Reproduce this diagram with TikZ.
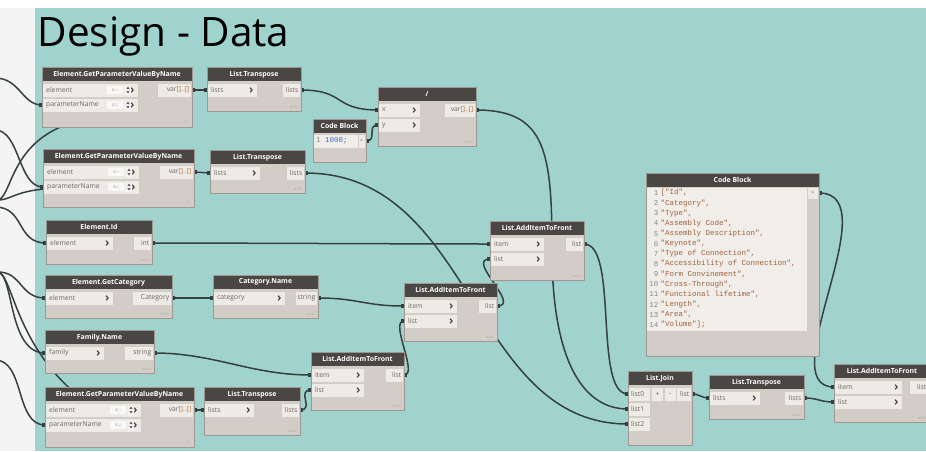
\documentclass[tikz,border=0pt]{standalone}
\usepackage{fontspec}
\setmainfont{Open Sans}
\setmonofont{Liberation Mono}
\usetikzlibrary{calc}
\definecolor{bgc}{HTML}{A0D3CD}
\definecolor{headc}{HTML}{4A4644}
\definecolor{bodyc}{HTML}{D3CDC7}
\definecolor{portc}{HTML}{EEEBE7}
\definecolor{brdc}{HTML}{9E9892}
\definecolor{wirec}{HTML}{354041}
\definecolor{ptxt}{HTML}{6B6662}
\definecolor{leftc}{HTML}{F4F4F4}
\definecolor{orng}{HTML}{C0763A}
\definecolor{codestr}{HTML}{A0603A}
\definecolor{codenum}{HTML}{8B8783}
\definecolor{codeblue}{HTML}{3B6FC4}
\definecolor{autoc}{HTML}{A8A29B}
\definecolor{codebg}{HTML}{F1EEEA}
\pgfdeclarelayer{bgl}\pgfdeclarelayer{wl}\pgfsetlayers{bgl,wl,main}
\tikzset{
  wire/.style={draw=wirec,line width=1.5pt},
  headtxt/.style={text=white,font=\fontsize{6.9}{8}\selectfont\bfseries,inner sep=0pt},
  porttxt/.style={text=ptxt,font=\fontsize{6.8}{7.5}\selectfont,inner sep=0pt},
  autotxt/.style={text=autoc,font=\fontsize{3}{3.5}\selectfont,inner sep=0pt,anchor=south east},
  codetxt/.style={font=\fontsize{7.5}{9}\ttfamily,inner sep=0pt},
}
% Dynamo node: name, x1, y1, x2, y2, title
\newcommand\dyn[6]{%
  \fill[bodyc] (#2,#3) rectangle (#4,#5);
  \fill[headc] (#2,#3) rectangle (#4,#3+14);
  \draw[brdc,line width=0.5pt] (#2,#3) rectangle (#4,#5);
  \node[headtxt] (#1) at ({(#2+#4)/2},#3+7.3) {#6};
}
% input port: name, x1, x2, y, text
\newcommand\inp[5]{%
  \fill[portc] (#2+1,#4-6.5) rectangle (#3,#4+6.5);
  \node[porttxt,anchor=west] (#1t) at (#2+4,#4) {#5};
  \draw[headc,line width=1.1pt] (#3-7,#4-2.3) -- (#3-4.8,#4) -- (#3-7,#4+2.3);
  \coordinate (#1) at (#2,#4);
}
% input port without chevron
\newcommand\inpn[5]{%
  \fill[portc] (#2+1,#4-6.5) rectangle (#3,#4+6.5);
  \node[porttxt,anchor=west] (#1t) at (#2+3,#4) {#5};
  \coordinate (#1) at (#2,#4);
}
% GetParameterValueByName input: name, x1, y, text, default
\newcommand\gpin[5]{%
  \inp{#1}{#2}{#2+96}{#3}{#4}
  \fill[white!85!bodyc] (#2+65,#3-4) rectangle (#2+81,#3+4);
  \node[font=\fontsize{3.5}{4}\selectfont,text=autoc,inner sep=0pt] (#1d) at (#2+73,#3) {#5};
  \fill[white!80!bodyc] (#2+83,#3-4.5) rectangle (#2+89,#3+4.5);
  \fill[ptxt] (#2+84.3,#3-1) -- (#2+86,#3-3.5) -- (#2+87.7,#3-1) -- cycle;
  \fill[ptxt] (#2+84.3,#3+1) -- (#2+86,#3+3.5) -- (#2+87.7,#3+1) -- cycle;
}
% output port: name, x1, x2, y, text
\newcommand\outp[5]{%
  \fill[portc] (#2,#4-6.5) rectangle (#3-1,#4+6.5);
  \node[porttxt,anchor=east] (#1t) at (#3-2.5,#4) {#5};
  \coordinate (#1) at (#3,#4);
}
\newcommand\autolbl[3]{\node[autotxt] (#1a) at (#2-3,#3-2.5) {AUTO};}
\newcommand\lacelbl[3]{\node[autotxt] (#1a) at (#2-3,#3-2.5) {|||};}
\newcommand\vardots{var\textcolor{orng}{[]..[]}}
% wire from output to input with Dynamo-like tangents
\newcommand\wire[4]{%
  \draw[wire] (#1) .. controls +(#3,0) and +(-#4,0) .. (#2);
  \fill[wirec] ($(#1)+(-1,-2.2)$) rectangle ($(#1)+(3,2.2)$);
  \fill[wirec] ($(#2)+(-3,-2.2)$) rectangle ($(#2)+(1,2.2)$);
}
\begin{document}
\begin{tikzpicture}[x=1pt,y=-1pt]
\useasboundingbox (0,0) rectangle (926,451);
\clip (0,0) rectangle (926,451);
\begin{pgfonlayer}{bgl}
  \fill[white] (0,0) rectangle (926,451);
  \fill[leftc] (0,8) rectangle (35,451);
  \fill[bgc] (35,8) rectangle (926,451);
\end{pgfonlayer}
\node[anchor=base west,font=\fontsize{40.5}{44}\selectfont,inner sep=0pt] (title) at (37.5,46) {Design - Data};

% ---------- nodes ----------
\dyn{n1}{42}{67}{192}{127}{Element.GetParameterValueByName}
\gpin{n1a}{42}{90}{element}{DL1}
\gpin{n1b}{42}{105}{parameterName}{DL2}
\outp{n1o}{158}{192}{90}{\vardots}
\lacelbl{n1}{192}{127}

\dyn{lt1}{207}{67}{301}{111}{List.Transpose}
\inp{lt1i}{207}{257}{90}{lists}
\outp{lt1o}{283}{301}{90}{lists}
\autolbl{lt1}{301}{111}

\dyn{n2}{43}{149}{194}{207}{Element.GetParameterValueByName}
\gpin{n2a}{43}{172}{element}{DL1}
\gpin{n2b}{43}{187}{parameterName}{DL2}
\outp{n2o}{160}{194}{172}{\vardots}
\lacelbl{n2}{194}{207}

\dyn{lt2}{210}{150}{305}{193}{List.Transpose}
\inp{lt2i}{210}{260}{173}{lists}
\outp{lt2o}{287}{305}{173}{lists}
\autolbl{lt2}{305}{193}

\dyn{cbs}{313}{119}{366}{162}{Code Block}
\fill[codebg] (314,134.5) rectangle (358,147.5);
\fill[portc] (358.5,134.5) rectangle (365,147.5);
\node[codetxt,anchor=west] (cbst) at (316,141) {\textcolor{codenum}{1} \textcolor{codeblue}{1000;}};
\node[porttxt,font=\fontsize{5.5}{6}\selectfont] (cbsg) at (361.8,141) {>};
\coordinate (cbso) at (366,141);

\dyn{dv}{378}{87}{476}{146}{/}
\inp{dvx}{378}{420}{110}{x}
\inp{dvy}{378}{420}{125}{y}
\outp{dvo}{445}{476}{110}{\vardots}
\autolbl{dv}{476}{146}

\dyn{eid}{46}{220}{152}{264}{Element.Id}
\inp{eidi}{46}{113}{243}{element}
\outp{eido}{134}{152}{243}{int}
\autolbl{eid}{152}{264}

\dyn{gc}{45}{275}{172}{318}{Element.GetCategory}
\inp{gci}{45}{113}{298}{element}
\outp{gco}{133}{172}{298}{Category}
\autolbl{gc}{172}{318}

\dyn{cn}{213}{275}{318}{318}{Category.Name}
\inp{cni}{213}{285}{298}{category}
\outp{cno}{296}{318}{298}{string}
\autolbl{cn}{318}{318}

\dyn{fn}{45}{330}{154}{373}{Family.Name}
\inp{fni}{45}{104}{353}{family}
\outp{fno}{125}{154}{353}{string}
\autolbl{fn}{154}{373}

\dyn{n3}{45}{387}{194}{447}{Element.GetParameterValueByName}
\gpin{n3a}{45}{410}{element}{DL1}
\gpin{n3b}{45}{425}{parameterName}{DL2}
\outp{n3o}{160}{194}{410}{\vardots}
\lacelbl{n3}{194}{447}

\dyn{lt3}{204}{387}{300}{435}{List.Transpose}
\inp{lt3i}{204}{254}{410}{lists}
\outp{lt3o}{282}{300}{410}{lists}
\autolbl{lt3}{300}{435}

\dyn{a1}{311}{352}{404}{410}{List.AddItemToFront}
\inp{a1i}{311}{364}{375}{item}
\inp{a1l}{311}{364}{390}{list}
\outp{a1o}{386}{404}{375}{list}
\autolbl{a1}{404}{410}

\dyn{a2}{404}{283}{497}{341}{List.AddItemToFront}
\inp{a2i}{404}{457}{306}{item}
\inp{a2l}{404}{457}{321}{list}
\outp{a2o}{479}{497}{306}{list}
\autolbl{a2}{497}{341}

\dyn{a3}{490}{221}{584}{280}{List.AddItemToFront}
\inp{a3i}{490}{544}{244}{item}
\inp{a3l}{490}{544}{259}{list}
\outp{a3o}{566}{584}{244}{list}
\autolbl{a3}{584}{280}

\dyn{cbb}{646}{173}{819}{356}{Code Block}
\fill[codebg] (647,187.5) rectangle (807,331);
\fill[portc] (807.5,187.5) rectangle (818,199);
\node[porttxt,font=\fontsize{5.5}{6}\selectfont] (cbbg) at (812.8,193) {>};
\coordinate (cbbo) at (819,193);
\foreach \cn/\cl in {1/{["Id",},2/{"Category",},3/{"Type",},4/{"Assembly Code",},5/{"Assembly Description",},6/{"Keynote",},7/{"Type of Connection",},8/{"Accessibility of Connection",},9/{"Form Convinement",},10/{"Cross-Through",},11/{"Functional lifetime",},12/{"Length",},13/{"Area",},14/{"Volume"];}}{
  \node[codetxt,text=codenum,anchor=east] (cbbn\cn) at (658.5,{193+(\cn-1)*10.15}) {\cn};
  \node[codetxt,text=codestr,anchor=west] (cbbl\cn) at (660.5,{193+(\cn-1)*10.15}) {\cl};
}

\dyn{lj}{628}{371}{692}{445}{List.Join}
\inpn{lji0}{628}{650}{394}{list0}
\inpn{lji1}{628}{650}{409}{list1}
\inpn{lji2}{628}{650}{424}{list2}
\fill[portc] (652,387.5) rectangle (663,400.5);
\node[porttxt] (ljplus) at (657.5,394) {+};
\fill[portc] (665,387.5) rectangle (676,400.5);
\node[porttxt] (ljminus) at (670.5,394) {-};
\outp{ljo}{677}{692}{394}{list}

\dyn{lt4}{709}{375}{804}{419}{List.Transpose}
\inp{lt4i}{709}{760}{398}{lists}
\outp{lt4o}{785}{804}{398}{lists}
\autolbl{lt4}{804}{419}

\dyn{ra}{834}{364}{930}{422}{List.AddItemToFront}
\inp{rai}{834}{902}{387}{item}
\inp{ral}{834}{902}{402}{list}
\outp{rao}{910}{929}{387}{list}
\autolbl{ra}{929}{422}

% ---------- wires ----------
\coordinate (e1) at (-5,78);
\coordinate (e2) at (-2,200);
\coordinate (e3) at (-5,130);
\coordinate (e4) at (-5,207);
\coordinate (e5) at (-2,272);
\coordinate (e6) at (-5,360);
\begin{pgfonlayer}{wl}
\wire{n1o}{lt1i}{8}{8}
\wire{n2o}{lt2i}{8}{8}
\wire{n3o}{lt3i}{5}{5}
\wire{gco}{cni}{15}{15}
\wire{lt1o}{dvx}{45}{45}
\wire{cbso}{dvy}{12}{12}
\draw[wire] (dvo) .. controls (545,110) and (552,150) .. (552,250) .. controls (552,355) and (580,409) .. (lji1);
\fill[wirec] ($(dvo)+(-1,-2.2)$) rectangle ($(dvo)+(3,2.2)$);
\fill[wirec] ($(lji1)+(-3,-2.2)$) rectangle ($(lji1)+(1,2.2)$);
\wire{a3o}{lji0}{35}{35}
\wire{lt2o}{lji2}{170}{158}
\wire{eido}{a3i}{60}{60}
\wire{a2o}{a3l}{25}{25}
\wire{fno}{a1i}{60}{60}
\wire{lt3o}{a1l}{15}{15}
\wire{a1o}{a2l}{15}{15}
\wire{cno}{a2i}{40}{40}
\wire{ljo}{lt4i}{8}{8}
\wire{lt4o}{ral}{15}{15}
\wire{cbbo}{rai}{71}{64}
% wires coming from the left, outside the view
\wire{e1}{n1b}{25}{20}
\draw[wire] (e2) .. controls (18,195) and (5,90) .. (n1a);
\draw[wire] (e2) .. controls (20,200) and (18,172) .. (n2a);
\wire{e3}{n2b}{25}{25}
\wire{e4}{eidi}{30}{30}
\draw[wire] (e5) .. controls (22,272) and (20,298) .. (gci);
\draw[wire] (e5) .. controls (14,275) and (8,353) .. (fni);
\draw[wire] (e5) .. controls (18,275) and (15,410) .. (n3a);
\wire{e6}{n3b}{30}{30}
\foreach \p in {n1a,n2a,gci,fni,n3a}{\fill[wirec] ($(\p)+(-3,-2.2)$) rectangle ($(\p)+(1,2.2)$);}
\end{pgfonlayer}
\end{tikzpicture}
\end{document}
